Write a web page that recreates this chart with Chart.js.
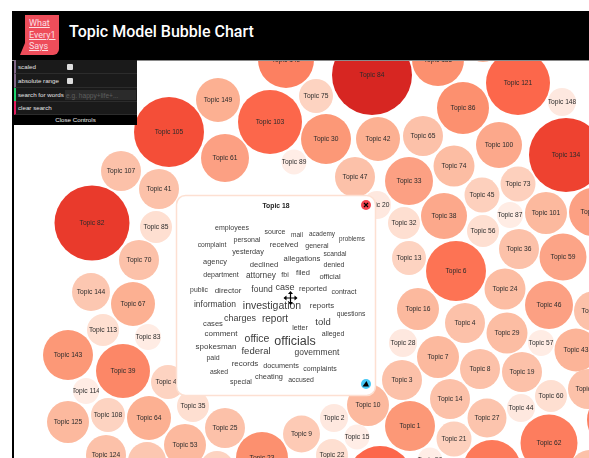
<!DOCTYPE html>
<html>
<head>
<meta charset="utf-8">
<title>Topic Model Bubble Chart</title>
<script src="https://cdn.jsdelivr.net/npm/chart.js@4"></script>
<style>
html, body { margin: 0; padding: 0; background: #fff; overflow: hidden; }
body { width: 589px; height: 458px; position: relative; font-family: "Liberation Sans", Arial, sans-serif; }
#bubbles { position: absolute; left: 0; top: 0; }
#stripe { position: absolute; left: 12px; top: 11px; width: 2px; height: 447px; background: #000; }
#header { position: absolute; left: 12px; top: 11px; width: 577px; height: 49px; background: #000; border-bottom: 1px solid #8a8a8a; box-sizing: content-box; }
#logo { position: absolute; left: 13px; top: 4px; width: 34px; height: 40px; background: #ee4d5a; border-bottom-right-radius: 6px; color: #fbdfe2; font-size: 9px; line-height: 11.5px; padding: 0; }
#logo:before { content: ""; position: absolute; left: -5px; bottom: 0; border-bottom: 12px solid #ee4d5a; border-left: 5px solid transparent; }
#logo span { position: absolute; left: 4px; text-decoration: underline; font-family: Roboto, sans-serif; }
#title { position: absolute; left: 57px; top: 11px; color: #fff; font: 500 16px Roboto, sans-serif; white-space: nowrap; }
#controls { position: absolute; left: 14px; top: 60px; width: 123px; height: 65px; background: #1a1a1a; color: #e4e4e4; font: 6.2px "Liberation Sans", Arial, sans-serif; }
.row { position: absolute; left: 0; height: 13px; line-height: 13px; border-left: 2px solid #806787; border-bottom: 1px solid #2c2c2c; padding-left: 2px; box-sizing: content-box; width: 119px; }
.box { position: absolute; left: 51px; top: 4px; width: 6px; height: 6px; background: #ddd; border-radius: 1px; }
.field { position: absolute; left: 49px; top: 2px; width: 70px; height: 10px; line-height: 11px; background: #2b2b2b; color: #5f5f5f; padding-left: 1px; font-size: 6.6px; }
#close { position: absolute; left: 0; top: 55px; width: 123px; height: 10px; line-height: 10px; background: #000; color: #eee; text-align: center; }
</style>
</head>
<body>
<canvas id="bubbles" width="589" height="458"></canvas>
<div id="stripe"></div>
<div id="header">
  <div id="logo"><span style="top:3px">What</span><span style="top:15px">Every1</span><span style="top:26px">Says</span></div>
  <div id="title">Topic Model Bubble Chart</div>
</div>
<div id="controls">
  <div class="row" style="top:0">scaled<div class="box"></div></div>
  <div class="row" style="top:14px">absolute range<div class="box"></div></div>
  <div class="row" style="top:28px;border-left-color:#1ed36f">search for words<div class="field">e.g. happy+life+...</div></div>
  <div class="row" style="top:41px;border-left-color:#e61d5f">clear search</div>
  <div id="close">Close Controls</div>
</div>
<script>
const topicLabels = [
  'Topic 140','Topic 149','Topic 103','Topic 105','Topic 61','Topic 107','Topic 41','Topic 82','Topic 85','Topic 89',
  'Topic 84','Topic 75','Topic 135','Topic 12','Topic 121','Topic 148','Topic 86','Topic 30','Topic 42','Topic 65',
  'Topic 100','Topic 134','Topic 74','Topic 47','Topic 33','Topic 45','Topic 73','Topic 20','Topic 32','Topic 38',
  'Topic 87','Topic 101','Topic 58','Topic 56','Topic 13','Topic 6','Topic 36','Topic 59','Topic 24','Topic 46',
  'Topic 16','Topic 4','Topic 29','Topic 28','Topic 7','Topic 57','Topic 43','Topic 8','Topic 19','Topic 3',
  'Topic 14','Topic 60','Topic 55','Topic 54','Topic 44','Topic 27','Topic 10','Topic 1','Topic 21','Topic 62',
  'Topic 2','Topic 15','Topic 9','Topic 22','Topic 77','Topic 71','Topic 50','Topic 90','Topic 70','Topic 144',
  'Topic 67','Topic 113','Topic 83','Topic 143','Topic 39','Topic 114','Topic 48','Topic 125','Topic 108','Topic 64',
  'Topic 35','Topic 25','Topic 53','Topic 124','Topic 26','Topic 93','Topic 23','Topic 118'
];
const topicX = [
  286,218,270,169,225,121,159,92,156,294,
  372,316,438,483,518,562,463,326,378,423,
  499,566,454,355,409,482,518,377,404,444,
  510,546,593,483,409,456,519,563,505,549,
  418,465,507,403,438,541,576,480,522,402,
  450,551,588,594,521,487,368,410,454,549,
  334,357,301.5,332,380,492,430,615,139,91,
  133,103,148,68,123,86,168,68,108,149,
  193,225,185,106,147,217,262,590
];
const topicY = [
  60,100,122,132,158,171,189,223,227,162,
  75,96,60,40,83,102,108,139,139,136,
  145,155,166,177,181,195,184,205,223,216,
  215,213,212,231,258,271,249,257,289,305,
  309,323,333,343,357,343,350,369,372,380,
  399,396,389,311,408,418,405,426,439,443,
  418,437,434,455,478,469,460,420,260,292,
  304,330,337,355,371,391,382,422,415,418,
  406,428,445,455,461,468,458,470
];
const topicRadius = [
  28,22,32,35,24,20,20,37.5,16,12.5,
  40,17,26,22,32,14,26,25,22,20,
  23,37,20.5,20,24,17.5,17.5,14,16,23,
  13,21,24,16,17,30,20,23.5,20.5,24,
  21,20,20.5,14,21,13,21.5,20,20,20,
  20,16,20,20,14,19.5,21,25,17.5,28.5,
  14,12.5,18.5,16,32,29,12.5,28,20,19,
  22,16,13,25,27,13,17,21,17,22,
  16,20,21,20,19,17,26,20
];

const wordList = [
  'employees','source','mail','academy','problems','personal','complaint','received','general','yesterday',
  'scandal','allegations','agency','declined','denied','department','attorney','fbi','filed','official',
  'public','director','found','case','reported','contract','information','investigation','reports','questions',
  'cases','charges','report','letter','told','alleged','comment','office','officials','spokesman',
  'federal','government','paid','records','documents','complaints','asked','cheating','special','accused'
];
const wordX = [
  232,275,297,322,352,247,212,284,317,248,
  335,302,215,264,334,221,261,285,303,330,
  199,228,262,285,313,344,215,272,322,351,
  213,240,275,300,323,333,221,257,295,216,
  256,317,213,245,281,320,219,269,241,301
];
const wordY = [
  228,232,235,234,239,240,245,245,246,252,
  254,259,262,265,265,275,276,275,273,277,
  290,291,290,288,289,292,305,306,306,314,
  324,319,319,328,322,334,334,339,342,347,
  351,353,358,364,366,369,372,377,382,380
];
const wordSize = [
  7,7,6.5,6.4,6.3,7,6.7,7.5,7,7.3,
  6.7,7.7,7.4,7.7,7,7,8.3,7,7.5,7.5,
  6.8,8,8.5,9,7.5,7,8.5,10.5,7.8,6.7,
  7.6,9,10,7,9.5,7,8,10.5,12.5,8,
  9.5,8.5,7,8,7.3,7,6.8,7.4,7,6.9
];

// size -> colour
const colourStops = [
  [12,'#ffefe8'],[14,'#fee8df'],[16,'#fedfd1'],[17,'#fdd3c1'],[20,'#fcc1a9'],[22,'#fcb092'],[24,'#fca083'],
  [25,'#fc9877'],[27,'#fc8767'],[30,'#fd7354'],[32,'#fc674b'],[35,'#f44e38'],[37,'#ee4230'],[37.5,'#e93a2c'],[40,'#d72622']
];

function hexToRgb(h) {
  return [1, 3, 5].map(i => parseInt(h.slice(i, i + 2), 16));
}

function colourFor(r) {
  for (let i = 1; i < colourStops.length; i++) {
    if (r <= colourStops[i][0]) {
      const a = colourStops[i - 1], b = colourStops[i];
      const t = Math.max(0, (r - a[0]) / (b[0] - a[0]));
      const ca = hexToRgb(a[1]), cb = hexToRgb(b[1]);
      return 'rgb(' + ca.map((v, k) => Math.round(v + (cb[k] - v) * t)).join(',') + ')';
    }
  }
  return colourStops[colourStops.length - 1][1];
}

function drawCursor(ctx, cx, cy) {
  ctx.strokeStyle = '#000';
  ctx.fillStyle = '#000';
  ctx.lineWidth = 1.2;
  ctx.beginPath();
  ctx.moveTo(cx - 6, cy); ctx.lineTo(cx + 6, cy);
  ctx.moveTo(cx, cy - 6); ctx.lineTo(cx, cy + 6);
  ctx.stroke();
  [[1, 0], [-1, 0], [0, 1], [0, -1]].forEach(d => {
    ctx.beginPath();
    ctx.moveTo(cx + d[0] * 7, cy + d[1] * 7);
    ctx.lineTo(cx + d[0] * 4 - d[1] * 2.5, cy + d[1] * 4 - d[0] * 2.5);
    ctx.lineTo(cx + d[0] * 4 + d[1] * 2.5, cy + d[1] * 4 + d[0] * 2.5);
    ctx.fill();
  });
}

const overlay = {
  id: 'overlay',
  afterDatasetsDraw(chart) {
    const ctx = chart.ctx;
    const x = chart.scales.x, y = chart.scales.y;
    ctx.save();
    ctx.textAlign = 'center';
    ctx.textBaseline = 'middle';

    // topic names, cut off at the edge of their own bubble
    ctx.font = '6.7px "Liberation Sans", Arial, sans-serif';
    topicLabels.forEach((name, i) => {
      const px = x.getPixelForValue(topicX[i]), py = y.getPixelForValue(topicY[i]);
      ctx.save();
      ctx.beginPath();
      ctx.arc(px, py, topicRadius[i], 0, Math.PI * 2);
      ctx.clip();
      ctx.fillStyle = '#2b2b2b';
      ctx.fillText(name, px, py);
      ctx.restore();
    });

    // popup for the selected topic
    ctx.beginPath();
    ctx.roundRect(x.getPixelForValue(176.5), y.getPixelForValue(195.5), 199, 200, 9);
    ctx.fillStyle = '#fff';
    ctx.fill();
    ctx.strokeStyle = '#fde0d2';
    ctx.lineWidth = 1.5;
    ctx.stroke();

    ctx.fillStyle = '#222';
    ctx.font = 'bold 6.8px "Liberation Sans", Arial, sans-serif';
    ctx.fillText('Topic 18', x.getPixelForValue(276), y.getPixelForValue(206));

    ctx.fillStyle = '#3c3c3c';
    wordList.forEach((w, i) => {
      ctx.font = wordSize[i] + 'px "Liberation Sans", Arial, sans-serif';
      ctx.fillText(w, x.getPixelForValue(wordX[i]), y.getPixelForValue(wordY[i]));
    });

    // close button
    ctx.fillStyle = '#f4444f';
    ctx.beginPath();
    ctx.arc(366, 205, 5, 0, Math.PI * 2);
    ctx.fill();
    ctx.strokeStyle = '#000';
    ctx.lineWidth = 1.2;
    ctx.beginPath();
    ctx.moveTo(364, 203); ctx.lineTo(368, 207);
    ctx.moveTo(368, 203); ctx.lineTo(364, 207);
    ctx.stroke();

    // pin button
    ctx.fillStyle = '#45c8f5';
    ctx.beginPath();
    ctx.arc(366, 384, 5, 0, Math.PI * 2);
    ctx.fill();
    ctx.fillStyle = '#000';
    ctx.beginPath();
    ctx.moveTo(362.5, 386.5); ctx.lineTo(366.5, 381); ctx.lineTo(369, 386.5);
    ctx.fill();

    drawCursor(ctx, 290.5, 298);
    ctx.restore();
  }
};

new Chart(document.getElementById('bubbles'), {
  type: 'bubble',
  data: {
    labels: topicLabels,
    datasets: [{
      label: 'Topics',
      data: topicLabels.map((_, i) => ({ x: topicX[i], y: topicY[i], r: topicRadius[i] })),
      backgroundColor: topicRadius.map(colourFor),
      borderWidth: 0,
      hoverRadius: 0,
      clip: false
    }]
  },
  options: {
    responsive: false,
    animation: false,
    layout: { autoPadding: false, padding: 0 },
    events: [],
    scales: {
      x: { type: 'linear', min: 0, max: 589, display: false },
      y: { type: 'linear', min: 0, max: 458, reverse: true, display: false }
    },
    plugins: { legend: { display: false }, tooltip: { enabled: false } }
  },
  plugins: [overlay]
});
</script>
</body>
</html>
